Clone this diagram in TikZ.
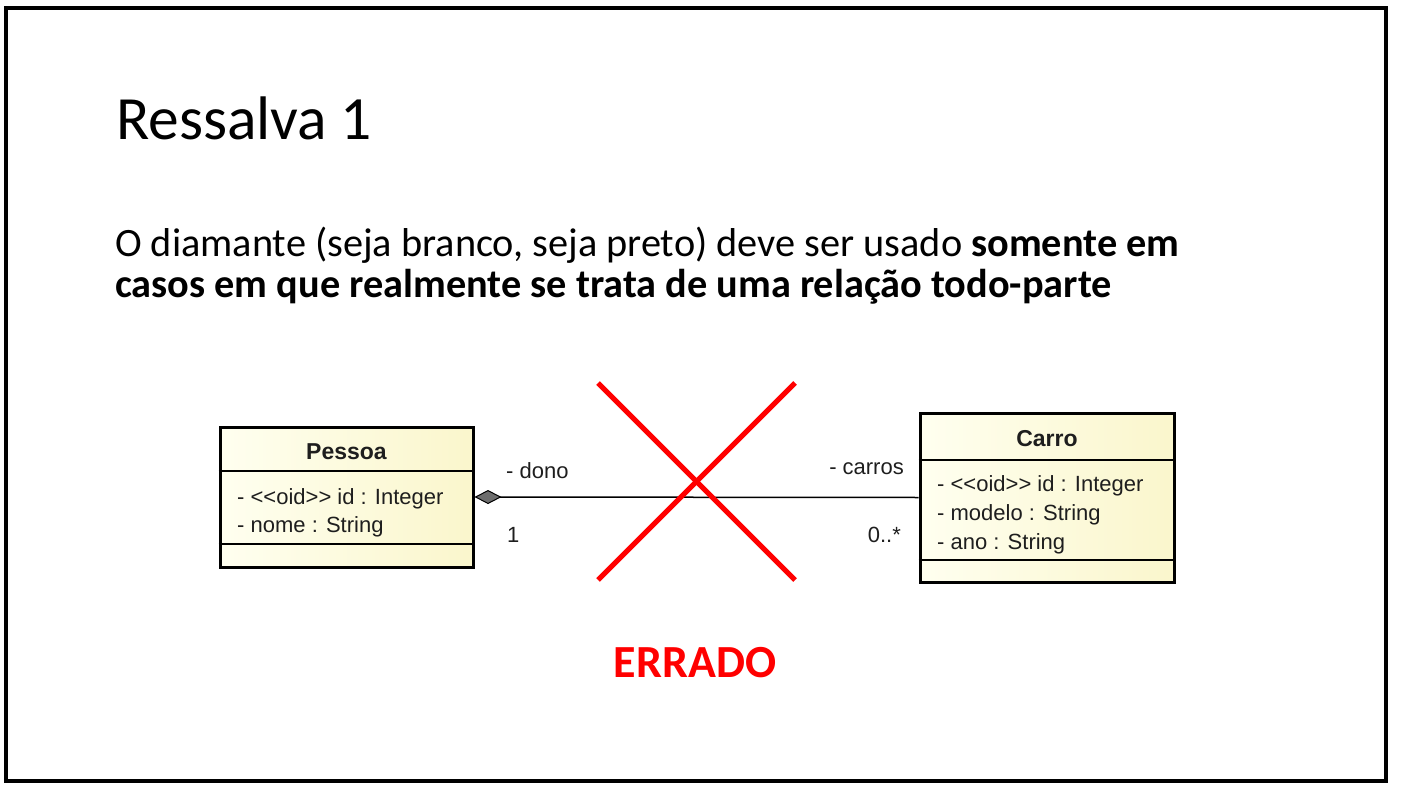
\documentclass[tikz,border=0pt]{standalone}
\usepackage{fontspec}
\setmainfont{Carlito}
\newfontfamily\umlfont{Liberation Sans}
\usetikzlibrary{arrows.meta,positioning}
\definecolor{errRed}{RGB}{255,0,0}
\definecolor{umlInk}{RGB}{30,30,30}
\definecolor{umlLight}{RGB}{255,255,240}
\definecolor{umlDark}{RGB}{250,246,204}
\definecolor{umlGray}{RGB}{110,110,110}
\newcommand{\myCross}{%%
  %% Draw the red cross over the association.
  \draw[crossStyle] (crossA) -- (crossB);
  \draw[crossStyle] (crossC) -- (crossD);
}
\newcommand{\mySeparator}[2]{%%
  %% Draw a compartment line across a class box.
  \draw[sepStyle] (#1.west |- #2) -- (#1.east |- #2);
}

\begin{document}
\begin{tikzpicture}[x=1pt,y=-1pt,%%
  frameStyle/.style={line width=4pt},%%
  classStyle/.style={draw,line width=3pt,rectangle,inner sep=0pt,%%
    left color=umlLight,right color=umlDark},%%
  sepStyle/.style={line width=1.5pt},%%
  umlText/.style={font=\umlfont\fontsize{22}{26}\selectfont,text=umlInk,%%
    inner sep=0pt,anchor=base west},%%
  umlTitle/.style={font=\umlfont\bfseries\fontsize{23}{27}\selectfont,%%
    text=umlInk,inner sep=0pt,anchor=base},%%
  assocStyle/.style={line width=1.5pt},%%
  crossStyle/.style={line width=5pt,errRed},%%
  slideText/.style={inner sep=0pt,anchor=base west}
]
%%
\useasboundingbox (0,0) rectangle (1404,802);
%% The slide frame.
\draw[frameStyle] (6,8) rectangle (1386,781);
%%
%% Title and text.
\node[slideText,font=\fontsize{61.5}{74}\selectfont] (title) at (116,140)
  {Ressalva 1};
\node[slideText,font=\fontsize{40.3}{48}\selectfont] (lineA) at (115,256)
  {O diamante (seja branco, seja preto) deve ser usado \textbf{somente em}};
\node[slideText,font=\fontsize{40.3}{48}\selectfont] (lineB) at (115,297)
  {\textbf{casos em que realmente se trata de uma relação todo-parte}};
%%
%% The two classes.
\node[classStyle,minimum width=253,minimum height=140] (pessoa) at (346.5,497) {};
\node[classStyle,minimum width=254,minimum height=169] (carro) at (1047,497.5) {};
%%
\coordinate (pSepA) at (0,471);
\coordinate (pSepB) at (0,544);
\coordinate (cSepA) at (0,460);
\coordinate (cSepB) at (0,560);
\mySeparator{pessoa}{pSepA}
\mySeparator{pessoa}{pSepB}
\mySeparator{carro}{cSepA}
\mySeparator{carro}{cSepB}
%%
\node[umlTitle] (pessoaName) at (346.5,459) {Pessoa};
\node[umlText] (pessoaId) at (237,504) {- <<oid>> id : Integer};
\node[umlText] (pessoaNome) at (237,532) {- nome : String};
%%
\node[umlTitle] (carroName) at (1047,446) {Carro};
\node[umlText] (carroId) at (937,491) {- <<oid>> id : Integer};
\node[umlText] (carroModelo) at (937,520) {- modelo : String};
\node[umlText] (carroAno) at (937,549) {- ano : String};
%%
%% The association with its diamond.
\draw[assocStyle,{Diamond[length=27pt,width=14pt,fill=umlGray,line width=1pt]}-]
  (pessoa.east) -- (carro.west);
\node[umlText] (dono) at (506,478) {- dono};
\node[umlText] (donoMult) at (507,542) {1};
\node[umlText,anchor=base east] (carros) at (904,474) {- carros};
\node[umlText,anchor=base east] (carrosMult) at (901,542) {0..*};
%%
%% The red cross.
\coordinate (crossA) at (598,383);
\coordinate (crossB) at (795,580);
\coordinate (crossC) at (795,383);
\coordinate (crossD) at (598,580);
\myCross
%%
\node[inner sep=0pt,anchor=base,font=\bfseries\fontsize{46}{55}\selectfont,
  text=errRed] (errado) at (695,677) {ERRADO};
\end{tikzpicture}
\end{document}
